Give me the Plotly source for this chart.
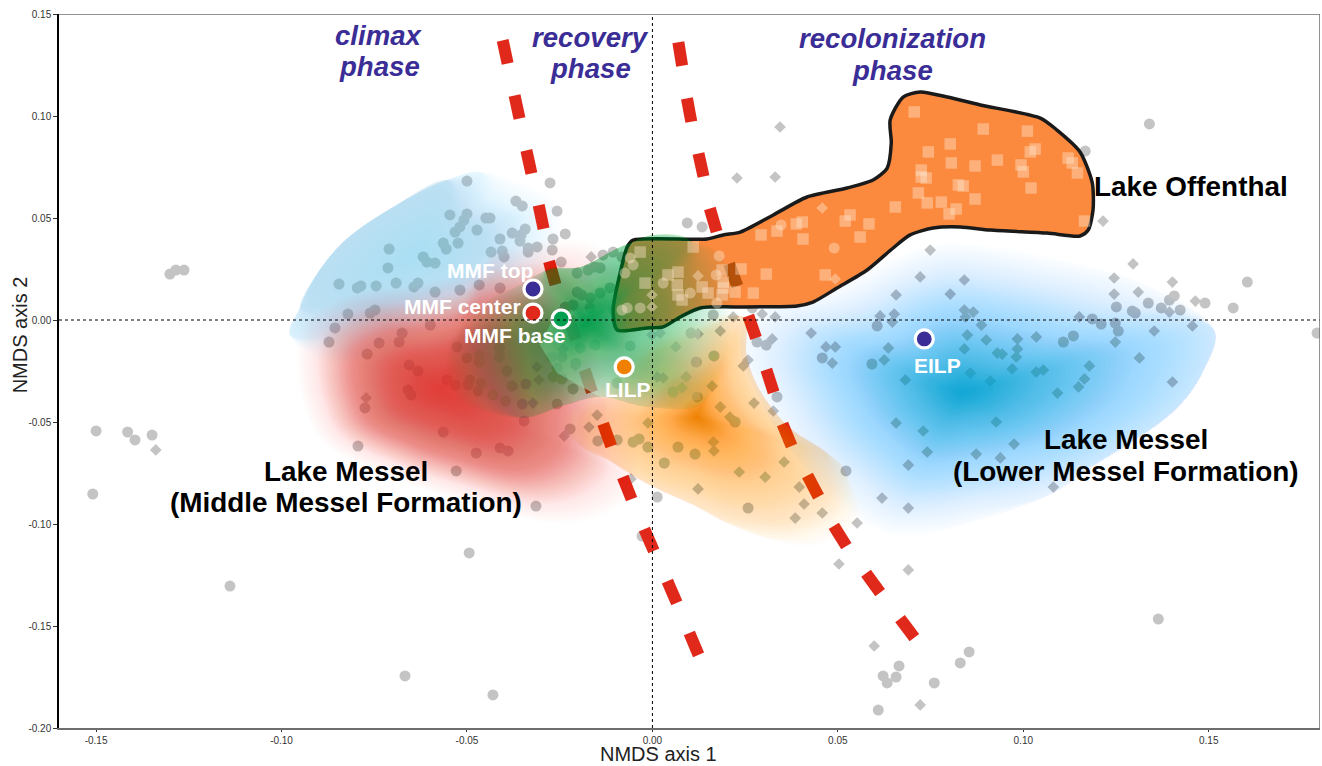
import numpy as np
import plotly.graph_objects as go

# ---------- data ----------
circle_x = [-0.1500,-0.1415,-0.1395,-0.1349,-0.1509,-0.1139,-0.0494,-0.0667,-0.0430,-0.0314,-0.0794,-0.1301,-0.1285,-0.1263,
0.1340,0.1167,0.1604,0.1792,0.1566,0.1490,0.1364,0.0609,0.0760,0.0830,0.0854,0.0665,0.0657,0.0622,0.0633,0.0258,0.0522,0.0013,-0.0028,
0.1423,0.1407,0.1394,0.1372,0.1337,0.1294,0.1302,0.1251,0.1186,0.1210,0.1248,0.1256,0.1135,0.1108,0.0606,0.0592,0.0458,0.0336,0.0223,0.0307,0.0282,0.0269,
-0.0500,-0.0276,-0.0368,-0.0351,-0.0257,-0.0546,-0.0500,-0.0508,-0.0519,-0.0532,-0.0449,-0.0438,-0.0473,-0.0378,-0.0343,-0.0354,-0.0235,-0.0411,-0.0268,-0.0357,
-0.0564,-0.0524,-0.0556,-0.0710,-0.0435,-0.0405,-0.0400,-0.0335,-0.0311,-0.0270,-0.0335,-0.0618,-0.0608,-0.0586,-0.0713,-0.0276,-0.0246,-0.0845,-0.0796,-0.0786,
-0.0745,-0.0691,-0.0643,-0.0632,-0.0519,-0.0586,-0.0467,-0.0411,-0.0821,-0.0761,-0.0748,-0.0856,-0.0872,-0.0675,-0.0683,-0.0737,-0.0769,-0.0599,
-0.0656,-0.0632,-0.0659,-0.0651,-0.0775,-0.0564,-0.0554,-0.0532,-0.0527,-0.0500,-0.0467,-0.0467,-0.0413,-0.0413,-0.0497,-0.0492,-0.0462,-0.0470,-0.0430,-0.0397,
-0.0392,-0.0378,-0.0341,-0.0351,-0.0257,-0.0346,-0.0475,-0.0411,-0.0389,-0.0529,-0.0222,-0.0214,-0.0244,-0.0268,
-0.0203,-0.0173,-0.0155,-0.0141,-0.0133,-0.0106,-0.0082,-0.0203,-0.0190,-0.0168,-0.0141,-0.0114,-0.0079,-0.0214,-0.0168,-0.0106,-0.0235,-0.0271,-0.0257,-0.0244,-0.0195,-0.0060,-0.0155,-0.0206,
-0.0095,0.0118,0.0166,0.0104,0.0056,0.0121,-0.0147,-0.0095,-0.0052,-0.0036,-0.0012,0.0069,0.0115,0.0032,0.0164,0.0094,0.0134]
circle_y = [-0.0544,-0.0549,-0.0588,-0.0564,-0.0853,-0.1304,-0.1142,-0.1745,-0.1838,-0.0912,-0.0618,0.0225,0.0245,0.0245,
0.0961,0.0828,0.0186,-0.0064,0.0059,0.0083,-0.1466,-0.1912,-0.1779,-0.1681,-0.1627,-0.1696,-0.1750,-0.1745,-0.1779,-0.0922,-0.0740,-0.0868,-0.1059,
0.0049,0.0118,0.0098,0.0059,0.0083,0.0044,0.0034,0.0064,0.0005,-0.0020,-0.0015,-0.0054,-0.0078,-0.0108,-0.0029,-0.0216,-0.0186,-0.0377,-0.0500,-0.0123,-0.0108,0.0059,
0.0681,0.0672,0.0583,0.0559,0.0534,0.0515,0.0520,0.0490,0.0456,0.0431,0.0500,0.0500,0.0441,0.0426,0.0446,0.0417,0.0422,0.0397,0.0397,0.0387,
0.0377,0.0377,0.0348,0.0348,0.0333,0.0338,0.0309,0.0353,0.0358,0.0343,0.0333,0.0309,0.0284,0.0279,0.0255,0.0250,0.0284,0.0176,0.0157,0.0167,
0.0167,0.0181,0.0162,0.0181,0.0147,0.0137,0.0172,0.0157,0.0029,0.0034,0.0049,-0.0039,-0.0108,-0.0064,-0.0108,-0.0113,-0.0167,-0.0025,
-0.0221,-0.0250,-0.0343,-0.0368,-0.0431,-0.0549,-0.0294,-0.0319,-0.0132,-0.0186,-0.0172,-0.0206,-0.0137,-0.0181,-0.0319,-0.0294,-0.0309,-0.0348,-0.0368,-0.0397,
-0.0250,-0.0324,-0.0314,-0.0412,-0.0412,-0.0495,-0.0652,-0.0627,-0.0642,-0.0740,-0.0534,-0.0338,-0.0289,-0.0279,
0.0230,0.0245,0.0260,0.0255,0.0319,0.0333,0.0309,0.0137,0.0123,0.0108,0.0132,0.0157,0.0137,0.0074,0.0059,0.0049,0.0064,-0.0181,-0.0235,-0.0181,-0.0137,-0.0127,-0.0123,-0.0211,
-0.0309,-0.0206,-0.0176,-0.0064,-0.0353,-0.0377,-0.0593,-0.0588,-0.0598,-0.0583,-0.0623,-0.0623,-0.0657,-0.0701,0.0025,0.0476,0.0456]

diamond_x = [0.0344,0.0228,0.0331,0.1215,0.0749,0.0722,0.0841,0.0657,0.0803,0.1296,0.1245,0.1402,0.1245,0.1310,0.1464,0.1394,0.1151,0.0841,0.0865,0.0844,
0.0614,0.0652,0.0647,0.0887,0.1353,0.1456,0.1248,0.0428,0.0849,0.0900,0.0984,0.1035,0.0636,0.0493,0.0468,0.0841,0.0930,0.0943,0.0984,0.0981,
0.0485,0.0625,0.1313,0.1178,0.0970,0.1035,0.1054,0.0857,0.1165,0.1149,0.0682,0.0911,0.1402,0.1092,0.0323,0.0218,0.0296,0.0331,0.0258,0.0245,
0.0274,0.0326,0.0657,0.0927,0.0730,0.0975,0.0873,0.0741,0.0938,0.0690,0.1081,0.0619,0.0690,0.0355,0.0234,0.0304,0.0396,0.0409,0.0458,0.0385,
0.0552,0.0503,0.0690,0.0598,0.0722,0.0123,0.0166,0.0164,-0.0012,-0.0149,-0.0171,-0.0238,-0.0058,0.0063,0.0123,0.0183,0.0021,-0.0001,0.0013,0.0029,
0.0091,0.0080,0.0161,0.0183,0.0209,-0.0772,-0.0322,-0.0306,-0.0311,-0.0241,-0.0208,-0.0165,-0.1339]
diamond_y = [0.0946,0.0696,0.0701,0.0485,0.0343,0.0211,0.0196,0.0123,0.0127,0.0275,0.0206,0.0186,0.0127,0.0137,0.0093,0.0039,0.0015,0.0049,0.0039,0.0015,
0.0020,0.0029,-0.0010,-0.0025,-0.0054,-0.0029,-0.0108,-0.0064,-0.0074,-0.0098,-0.0093,-0.0083,-0.0137,-0.0132,-0.0132,-0.0142,-0.0162,-0.0167,-0.0142,-0.0181,
-0.0211,-0.0196,-0.0186,-0.0225,-0.0240,-0.0255,-0.0245,-0.0260,-0.0289,-0.0328,-0.0294,-0.0299,-0.0304,-0.0358,-0.0093,0.0015,0.0029,0.0015,-0.0196,-0.0225,
-0.0407,-0.0446,-0.0505,-0.0500,-0.0544,-0.0608,-0.0657,-0.0647,-0.0676,-0.0711,-0.0819,-0.0873,-0.0922,-0.0696,-0.0745,-0.0770,-0.0819,-0.0902,-0.0946,-0.0971,
-0.0995,-0.1196,-0.1225,-0.1598,-0.1887,-0.0828,-0.0642,-0.0598,-0.0505,-0.0466,-0.0525,-0.0569,-0.0779,-0.0132,-0.0069,-0.0054,-0.0064,-0.0074,-0.0279,-0.0284,
-0.0279,-0.0333,-0.0324,-0.0426,-0.0476,-0.0382,-0.0407,-0.0294,-0.0230,-0.0142,-0.0225,0.0309,-0.0637]

square_x = [0.0706,0.0892,0.1011,0.0803,0.0744,0.1032,0.1019,0.0806,0.0930,0.0870,0.1121,0.1132,0.1146,0.0994,0.1000,0.0725,0.0725,0.0738,0.1021,0.0825,
0.0838,0.0870,0.0717,0.0741,0.0779,0.0819,0.0800,0.0655,0.1165,0.0533,0.0520,0.0584,0.0560,0.0404,0.0388,0.0336,0.0293,0.0406,0.0307,0.0466,
0.0239,0.0223,0.0272,0.0188,0.0191,0.0150,0.0134,0.0110,-0.0033,-0.0020,0.0069,0.0042,0.0067,0.0069,0.0080,0.0188,0.0191]
square_y = [0.1020,0.0936,0.0926,0.0863,0.0824,0.0838,0.0824,0.0770,0.0784,0.0755,0.0794,0.0770,0.0721,0.0760,0.0726,0.0735,0.0701,0.0696,0.0647,0.0662,
0.0657,0.0593,0.0623,0.0574,0.0578,0.0544,0.0520,0.0554,0.0485,0.0515,0.0485,0.0471,0.0407,0.0480,0.0471,0.0436,0.0417,0.0397,0.0225,0.0221,
0.0250,0.0137,0.0132,0.0245,0.0157,0.0132,0.0162,0.0358,0.0333,0.0181,0.0235,0.0221,0.0172,0.0123,0.0098,0.0123,0.0186]

pale_circle_x = [0.0347,0.0490,0.0180,0.0172,0.0102,-0.0052,-0.0060,-0.0074,0.0029,-0.0033,-0.0068,-0.0082,0.0174]
pale_circle_y = [0.0466,0.0353,0.0314,0.0221,0.0132,0.0270,0.0304,0.0230,0.0181,0.0059,0.0059,0.0049,0.0083]
pale_diamond_x = [0.0458,0.0493,0.0123,-0.0001,-0.0001]
pale_diamond_y = [0.0549,0.0201,0.0216,0.0123,0.0064]

offenthal_x = [-0.0068,-0.0052,0.0147,0.0191,0.0237,0.0326,0.0417,0.0525,0.0595,0.0633,0.0644,0.0641,0.0676,0.0722,0.0795,0.0884,0.1046,0.1091,0.1153,0.1186,0.1188,0.1175,0.1153,0.1064,0.0911,0.0830,0.0757,0.0695,0.0649,0.0579,0.0498,0.0433,0.0390,0.0255,0.0129,0.0075,0.0029,-0.0014,-0.0095,-0.0106,-0.0087,-0.0068]
offenthal_y = [0.0358,0.0392,0.0397,0.0417,0.0431,0.0515,0.0603,0.0647,0.0686,0.0745,0.0868,0.0980,0.1093,0.1118,0.1093,0.1054,0.0990,0.0931,0.0824,0.0672,0.0539,0.0441,0.0412,0.0426,0.0441,0.0456,0.0451,0.0417,0.0353,0.0245,0.0157,0.0088,0.0069,0.0064,0.0059,0.0015,-0.0034,-0.0039,-0.0049,0.0049,0.0230,0.0358]

lower_x = [0.0250,0.0479,0.0679,0.0803,0.1110,0.1318,0.1515,0.1483,0.1410,0.1215,0.1059,0.0854,0.0741,0.0614,0.0479,0.0371,0.0290,0.0237]
lower_y = [0.0049,0.0172,0.0343,0.0392,0.0309,0.0181,-0.0049,-0.0260,-0.0441,-0.0686,-0.0868,-0.0995,-0.1064,-0.1054,-0.0882,-0.0637,-0.0392,-0.0147]
lower_w = [0,0,0,0,0,.05,.28,.3,.3,.28,.15,.05,0,0,0,.05,.05,.05]

upper_x = [-0.0977,-0.0950,-0.0915,-0.0834,-0.0699,-0.0554,-0.0465,-0.0376,-0.0249,-0.0249,-0.0357,-0.0626,-0.0869]
upper_y = [-0.0074,0.0064,0.0196,0.0382,0.0554,0.0686,0.0725,0.0696,0.0564,0.0343,0.0098,-0.0098,-0.0221]
upper_w = [.3,.5,.55,.55,.55,.5,.2,0,0,0,0,0,0]

red_x = [-0.0964,-0.0937,-0.0815,-0.0626,-0.0492,-0.0411,-0.0249,-0.0141,-0.0074,-0.0033,-0.0033,-0.0028,-0.0114,-0.0257,-0.0507,-0.0698,-0.0893,-0.0950]
red_y = [-0.0123,0.0,0.0132,0.0181,0.0245,0.0353,0.0402,0.0377,0.0245,-0.0098,-0.0735,-0.0819,-0.0956,-0.1005,-0.0897,-0.0784,-0.0603,-0.0392]
red_w = [0]*18

mint_x = [-0.0303,-0.0257,-0.0141,-0.0006,0.0129,0.0129,-0.0114,-0.0262]
mint_y = [-0.0123,-0.0260,-0.0377,-0.0417,-0.0392,-0.0049,0.0074,0.0025]

orange_x = [-0.0203,-0.0249,-0.0141,-0.0033,0.0102,0.0245,0.0255,0.0290,0.0369,0.0471,0.0514,0.0560,0.0433,0.0309,0.0201,0.0110,0.0002,-0.0106]
orange_y = [-0.0603,-0.0490,-0.0319,-0.0098,0.0,0.0015,-0.0181,-0.0343,-0.0525,-0.0652,-0.0721,-0.0980,-0.1113,-0.1069,-0.0995,-0.0907,-0.0819,-0.0701]
orange_w = [.1,0,0,0,0,.2,.25,.25,.25,.2,.1,0,0,.08,.15,.2,.25,.25]

green_x = [-0.0430,-0.0357,-0.0284,-0.0195,-0.0087,0.0002,0.0102,0.0183,0.0231,0.0223,0.0196,0.0129,-0.0014,-0.0141,-0.0235,-0.0357,-0.0519,-0.0560,-0.0506]
green_y = [0.0113,0.0172,0.0245,0.0260,0.0358,0.0417,0.0392,0.0319,0.0147,0.0,-0.0245,-0.0417,-0.0426,-0.0377,-0.0417,-0.0480,-0.0392,-0.0147,0.0]
green_w = [.05,.15,.45,.45,.45,.4,.35,.05,0,0,0,.08,.15,.2,.25,.2,.02,0,0]

left_dash_x = [-0.0397,-0.0365,-0.0333,-0.0300,-0.0270,-0.0217,-0.0173,-0.0122,-0.0068,-0.0009,0.0053,0.0112]
left_dash_y = [0.1314,0.1044,0.0775,0.0505,0.0230,-0.0039,-0.0299,-0.0564,-0.0824,-0.1078,-0.1333,-0.1588]
right_dash_x = [0.0075,0.0099,0.0131,0.0164,0.0218,0.0269,0.0317,0.0363,0.0433,0.0506,0.0595,0.0687]
right_dash_y = [0.1304,0.1029,0.0760,0.0490,0.0221,-0.0034,-0.0299,-0.0564,-0.0814,-0.1059,-0.1289,-0.1510]

sample_names = ["MMF top","MMF center","MMF base","LILP","EILP"]
sample_x = [-0.0322,-0.0322,-0.0246,-0.0076,0.0733]
sample_y = [0.0152,0.0034,0.0005,-0.0230,-0.0093]
sample_colors = ["#3b2d96","#e0291a","#009e4f","#f08000","#3b2d96"]
sample_label_x = [-0.0438,-0.0511,-0.0370,-0.0066,0.0768]
sample_label_y = [0.0245,0.0064,-0.0078,-0.0343,-0.0225]

tick_vals_x = [-0.15,-0.10,-0.05,0.0,0.05,0.10,0.15]
tick_text_x = ["-0.15","-0.10","-0.05","0.00","0.05","0.10","0.15"]
tick_vals_y = [-0.20,-0.15,-0.10,-0.05,0.0,0.05,0.10,0.15]
tick_text_y = ["-0.20","-0.15","-0.10","-0.05","0.00","0.05","0.10","0.15"]

FONT = "Liberation Sans"
POINT = "#c4c4c4"
PALE = "rgba(255,228,205,0.42)"

fig = go.Figure()

def add_points(x, y, sym, size, color):
    fig.add_trace(go.Scatter(x=x, y=y, mode="markers", hoverinfo="skip", showlegend=False,
        marker=dict(symbol=sym, size=size, color=color, line=dict(width=0))))

def add_cloud(x, y, w, cx, cy, rgb, prof_s, prof_a, n=80):
    x = np.array(list(x) + [x[0]], float)
    y = np.array(list(y) + [y[0]], float)
    w = np.array(list(w) + [w[0]], float)
    prev = 0.0
    order = np.argsort(prof_s)
    ps = np.array(prof_s)[order]
    pa = np.array(prof_a)[order]
    for k in range(n):
        s = 1 - (k + 0.5) / n
        a_target = float(np.interp(s, ps, pa))
        a = 1 - (1 - a_target) / (1 - prev)
        prev = a_target
        if a <= 0:
            continue
        f = np.minimum(1.0, s / (1 - w))
        fig.add_trace(go.Scatter(x=cx + f * (x - cx), y=cy + f * (y - cy), mode="lines", fill="toself",
            line=dict(width=0, shape="spline", smoothing=1.0), fillcolor=f"rgba({rgb},{a:.4f})",
            hoverinfo="skip", showlegend=False))

def dash_segments(cx, cy, idx=None):
    xs, ys = [], []
    m = len(cx)
    for i in range(m):
        a, b = max(i - 1, 0), min(i + 1, m - 1)
        span = b - a
        hx = 0.21 * (cx[b] - cx[a]) / span
        hy = 0.21 * (cy[b] - cy[a]) / span
        if idx is None or i == idx:
            xs += [cx[i] - hx, cx[i] + hx, None]
            ys += [cy[i] - hy, cy[i] + hy, None]
    return xs, ys

# grey samples below the clouds
add_points(circle_x, circle_y, "circle", 11, POINT)
add_points(diamond_x, diamond_y, "diamond", 9, POINT)

# blue clouds
add_cloud(lower_x, lower_y, lower_w, 0.0833, -0.0353, "14,168,214", [1,.8,.5,.25,0], [0,.12,.33,.6,.97])
add_cloud(upper_x, upper_y, upper_w, -0.0626, 0.0319, "120,200,235", [1,.45,0], [0,.46,.5], n=40)

# phase boundaries
for cx, cy in ((left_dash_x, left_dash_y), (right_dash_x, right_dash_y)):
    xs, ys = dash_segments(cx, cy)
    fig.add_trace(go.Scatter(x=xs, y=ys, mode="lines", line=dict(color="#e0291a", width=12),
                             hoverinfo="skip", showlegend=False))

# red, mint lobe, orange cloud
add_cloud(red_x, red_y, red_w, -0.0572, -0.0343, "232,62,54", [1,.85,.6,.35,0], [0,.1,.55,.78,.95])
fig.add_trace(go.Scatter(x=mint_x + mint_x[:1], y=mint_y + mint_y[:1], mode="lines", fill="toself",
    line=dict(width=0), fillcolor="rgba(255,255,255,0.55)", hoverinfo="skip", showlegend=False))
add_cloud(orange_x, orange_y, orange_w, 0.0120, -0.0476, "240,128,0", [1,.8,.5,.2,.07,0], [0,.2,.38,.62,.85,.99])

# Lake Offenthal
fig.add_trace(go.Scatter(x=offenthal_x, y=offenthal_y, mode="lines", fill="toself", fillcolor="#fb8a3f",
    line=dict(color="#1a1a1a", width=3.5, shape="spline", smoothing=0.7), hoverinfo="skip", showlegend=False))
xs, ys = dash_segments(right_dash_x, right_dash_y, idx=4)
fig.add_trace(go.Scatter(x=xs, y=ys, mode="lines", line=dict(color="#b5500a", width=12),
                         hoverinfo="skip", showlegend=False))

# green cloud
add_cloud(green_x, green_y, green_w, -0.0176, -0.0015, "0,160,80", [1,.55,.3,.1,0], [0,.4,.55,.85,.96])

# pale samples over Lake Offenthal
add_points(square_x, square_y, "square", 11.5, PALE)
add_points(pale_circle_x, pale_circle_y, "circle", 11, PALE)
add_points(pale_diamond_x, pale_diamond_y, "diamond", 9, PALE)

# lake / sample highlights
fig.add_trace(go.Scatter(x=sample_x, y=sample_y, mode="markers", hoverinfo="skip", showlegend=False,
    marker=dict(size=18, color=sample_colors, line=dict(color="white", width=3.2))))

def label(x, y, text, size, color, bold=True, italic=False):
    t = text
    if bold:
        t = f"<b>{t}</b>"
    if italic:
        t = f"<i>{t}</i>"
    fig.add_annotation(x=x, y=y, xref="x", yref="y", text=t, showarrow=False, xanchor="center", yanchor="middle",
                       font=dict(family=FONT, size=size, color=color))

for name, lx, ly in zip(sample_names, sample_label_x, sample_label_y):
    label(lx, ly, name, 21, "white")

PHASE = "#3b2d96"
label(-0.0737, 0.1397, "climax", 27.6, PHASE, italic=True)
label(-0.0737, 0.1245, "phase", 27.6, PHASE, italic=True)
label(-0.0168, 0.1387, "recovery", 27.6, PHASE, italic=True)
label(-0.0168, 0.1235, "phase", 27.6, PHASE, italic=True)
label(0.0646, 0.1378, "recolonization", 27.6, PHASE, italic=True)
label(0.0646, 0.1221, "phase", 27.6, PHASE, italic=True)
label(0.1453, 0.0652, "Lake Offenthal", 27.9, "black")
label(0.1277, -0.0588, "Lake Messel", 27.9, "black")
label(0.1277, -0.0745, "(Lower Messel Formation)", 27.9, "black")
label(-0.0826, -0.0745, "Lake Messel", 27.9, "black")
label(-0.0826, -0.0897, "(Middle Messel Formation)", 27.9, "black")

# axis titles
fig.add_annotation(x=0.0016, y=-0.0532, xref="x", yref="paper", text="NMDS axis 1", showarrow=False, borderpad=0,
                   xanchor="center", yanchor="bottom", font=dict(family=FONT, size=20, color="#222"))
fig.add_annotation(x=-0.0309, y=0.55, xref="paper", yref="paper", text="NMDS axis 2", showarrow=False, textangle=-90,
                   xanchor="center", yanchor="middle", font=dict(family=FONT, size=20, color="#222"))

GREY = "#6e6e6e"
shapes = [
    dict(type="line", xref="x", yref="y", x0=-0.16, x1=0.18, y0=0, y1=0, line=dict(color="black", width=1, dash="dot")),
    dict(type="line", xref="x", yref="y", x0=0, x1=0, y0=-0.20, y1=0.15, line=dict(color="black", width=1, dash="dot")),
    dict(type="line", xref="x", yref="y", x0=-0.16, x1=0.18, y0=0.15, y1=0.15, line=dict(color=GREY, width=1.5)),
    dict(type="line", xref="x", yref="y", x0=0.18, x1=0.18, y0=-0.20, y1=0.15, line=dict(color=GREY, width=1.5)),
]

fig.update_layout(
    width=1322, height=766, autosize=False, paper_bgcolor="white", plot_bgcolor="white",
    margin=dict(l=59, r=2, t=14, b=38), showlegend=False, shapes=shapes, font=dict(family=FONT),
    xaxis=dict(range=[-0.16, 0.18], tickvals=tick_vals_x, ticktext=tick_text_x, showgrid=False, zeroline=False,
               showline=True, linecolor=GREY, linewidth=1.5, ticks="outside", ticklen=2, tickcolor="#333",
               tickfont=dict(size=10, color="#333", family=FONT)),
    yaxis=dict(range=[-0.20, 0.15], tickvals=tick_vals_y, ticktext=tick_text_y, showgrid=False, zeroline=False,
               showline=True, linecolor="black", linewidth=1.5, ticks="outside", ticklen=4, tickcolor="#333",
               tickfont=dict(size=10, color="#333", family=FONT)),
)

fig.write_html("out.html", config=dict(displayModeBar=False),
               post_script="document.body.style.margin='0';")
